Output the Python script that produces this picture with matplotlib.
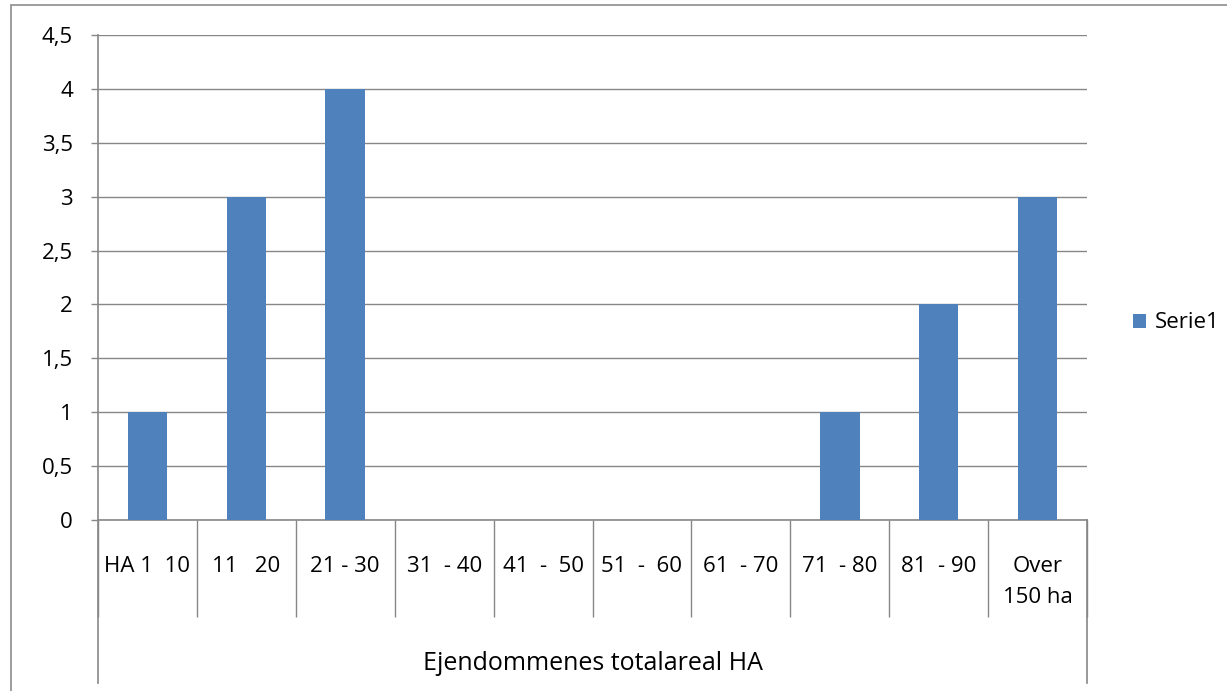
import matplotlib.pyplot as plt
from matplotlib.patches import Rectangle

# data
categories = ["HA 1  10", "11   20", "21 - 30", "31  - 40", "41  -  50",
              "51  -  60", "61  - 70", "71  - 80", "81  - 90", "Over\n150 ha"]
values = [1, 3, 4, 0, 0, 0, 0, 1, 2, 3]
yticks = [0, 0.5, 1, 1.5, 2, 2.5, 3, 3.5, 4, 4.5]
outer_label = "Ejendommenes totalareal HA"
series_name = "Serie1"

plt.rcParams['font.family'] = ['Open Sans', 'DejaVu Sans']
W, H = 1227, 691
grey = '#878787'
fs = 16

fig = plt.figure(figsize=(W / 100, H / 100), dpi=100)
# chart border
fig.patches.append(Rectangle((11 / W, -0.1), 2, 1.1 - 5 / H, transform=fig.transFigure,
                             fill=False, edgecolor='#8c8c8c', linewidth=1.2))

ax = fig.add_axes([98 / W, (H - 520) / H, 989 / W, 485 / H])
x = list(range(len(categories)))
ax.bar(x, values, width=0.4, color='#4F81BD', label=series_name, zorder=3)

ax.set_xlim(-0.5, len(categories) - 0.5)
ax.set_ylim(0, 4.5)
ax.set_yticks(yticks)
ax.set_yticklabels([f"{v:g}".replace('.', ',') for v in yticks], fontsize=fs)
ax.tick_params(axis='y', length=5, width=1, color=grey, pad=13)
ax.yaxis.grid(True, color=grey, linewidth=1)
ax.set_axisbelow(True)

for s in ['top', 'right']:
    ax.spines[s].set_visible(False)
ax.spines['left'].set_color(grey)
ax.spines['bottom'].set_color(grey)
ax.spines['left'].set_linewidth(1.2)
ax.spines['bottom'].set_linewidth(1.2)

# category separators
ax.set_xticks([i - 0.5 for i in range(len(categories) + 1)])
ax.set_xticklabels([])
ax.tick_params(axis='x', length=70, width=1, color=grey, direction='out')

trans = ax.get_xaxis_transform()
# outer group lines
for xe in [-0.5, len(categories) - 0.5]:
    ax.plot([xe, xe], [0, -163 / 485], transform=trans, color=grey,
            linewidth=1.2, clip_on=False)

for xi, lab in zip(x, categories):
    lines = lab.split('\n')
    for k, ln in enumerate(lines):
        ax.text(xi, -(52 + 31 * k) / 485, ln, transform=trans, ha='center',
                va='baseline', fontsize=fs)

ax.text((len(categories) - 1) / 2, -150 / 485, outer_label, transform=trans,
        ha='center', va='baseline', fontsize=18)

fig.legend(loc='center left', bbox_to_anchor=(1113 / W, (H - 323) / H), frameon=False,
           fontsize=fs, handlelength=0.6, handleheight=0.6, handletextpad=0.4)

fig.savefig('out.png', dpi=100)
